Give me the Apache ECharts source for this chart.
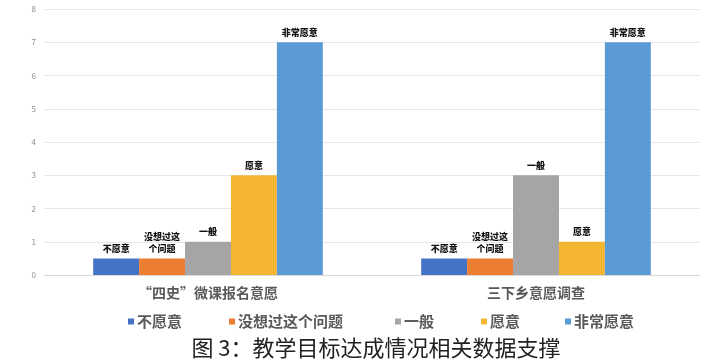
<!DOCTYPE html>
<html><head><meta charset="utf-8">
<script src="https://cdn.jsdelivr.net/npm/echarts@6/dist/echarts.min.js"></script>
<style>html,body{margin:0;padding:0;background:#fff}#c{width:721px;height:364px}</style>
</head><body><div id="c"></div>
<script>
const categories = ['“四史”微课报名意愿', '三下乡意愿调查'];
const seriesNames = ['不愿意', '没想过这个问题', '一般', '愿意', '非常愿意'];
const labelTexts = ['不愿意', '没想过这\n个问题', '一般', '愿意', '非常愿意'];
const vNotWilling = [0.5, 0.5];
const vNeverThought = [0.5, 0.5];
const vNeutral = [1, 3];
const vWilling = [3, 1];
const vVeryWilling = [7, 7];
const yTicks = [0, 1, 2, 3, 4, 5, 6, 7, 8];
const values = [vNotWilling, vNeverThought, vNeutral, vWilling, vVeryWilling];
const colors = ['#4472C4', '#ED7D31', '#A5A5A5', '#F4B630', '#5B9BD5'];
const legendLeft = [123, 224, 390, 476, 560];

const chart = echarts.init(document.getElementById('c'));
chart.setOption({
  animation: false,
  textStyle: {fontFamily: '"Noto Sans CJK SC", sans-serif'},
  grid: {left: 44, right: 21, top: 9, bottom: 89},
  xAxis: {
    type: 'category', data: categories,
    axisLine: {show: true, lineStyle: {color: '#d9d9d9'}},
    axisTick: {show: false},
    axisLabel: {color: '#595959', fontSize: 14, fontWeight: 'bold', margin: 11}
  },
  yAxis: {
    type: 'value', min: yTicks[0], max: yTicks[yTicks.length - 1], interval: 1,
    axisLine: {show: false}, axisTick: {show: false},
    axisLabel: {color: '#8c8c8c', fontSize: 8, margin: 8},
    splitLine: {lineStyle: {color: '#e6e6e6'}}
  },
  legend: seriesNames.map((n, i) => ({
    data: [n], left: legendLeft[i], top: 309,
    itemWidth: 6, itemHeight: 6, icon: 'rect', itemGap: 4,
    textStyle: {color: '#595959', fontSize: 15, fontWeight: 'bold', padding: [0, 0, 0, -2]}
  })),
  graphic: [{
    type: 'text', x: 376, y: 348,
    style: {
      text: '图 3：教学目标达成情况相关数据支撑', fill: '#222',
      font: 'normal 22px "Noto Sans CJK SC", serif',
      textAlign: 'center', textVerticalAlign: 'middle'
    }
  }],
  series: seriesNames.map((n, i) => ({
    name: n, type: 'bar', data: values[i],
    barGap: '0%', barCategoryGap: '30%',
    itemStyle: {color: colors[i]},
    label: {
      show: true, position: 'top', formatter: labelTexts[i],
      fontSize: 9, fontWeight: 900, color: '#111', lineHeight: 12, distance: 4
    }
  }))
});
</script></body></html>
